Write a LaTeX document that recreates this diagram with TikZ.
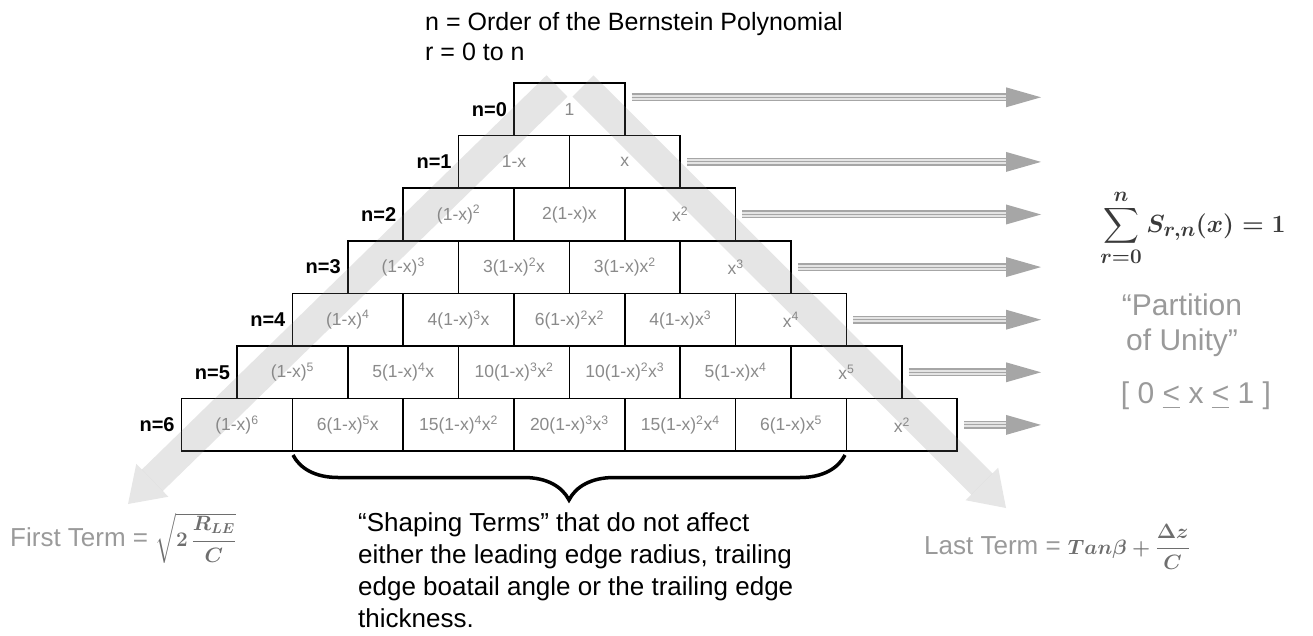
\documentclass[tikz,border=0pt]{standalone}
\usepackage{amsmath}
\usepackage{fontspec}
\setmainfont{Liberation Sans}
\usetikzlibrary{decorations.pathreplacing,arrows.meta}
\definecolor{celltxt}{HTML}{8A8A8A}
\definecolor{arrgray}{HTML}{A6A6A6}
\definecolor{shaftin}{HTML}{E4E4E4}
\definecolor{lbltxt}{HTML}{9A9A9A}
\definecolor{mathgray}{HTML}{6E6E6E}
\definecolor{sumcol}{HTML}{3A3A3A}
\newcommand\sps[1]{\textsuperscript{#1}}
\newcommand\bcell[4]{\node[cellbox] (#1) at ({569.4-55.4*#2+110.8*#3},{109.3+52.6*#2}) {#4};}
\newcommand\rowarrow[3]{%
  \coordinate (#2s) at ([xshift=6pt,yshift=#3]#1.east);
  \coordinate (#2e) at (#2s -| hx);
  \draw[shaft] (#2s) -- (#2e);
  \fill[arrgray] (#2e) -- ++(0,-10) -- ++(35,10) -- ++(-35,10) -- cycle;}
\newcommand\sumformula{{\fontsize{32}{35}\selectfont\boldmath$\displaystyle\sum_{r=0}^{n}S_{r,n}(x)=1$}}
\newcommand\firstformula{{\fontsize{22}{24}\selectfont\boldmath$\sqrt{2\,\dfrac{R_{LE}}{C}}$}}
\newcommand\lastformula{{\fontsize{22}{24}\selectfont\boldmath$Tan\beta+\dfrac{\Delta z}{C}$}}
\begin{document}
\begin{tikzpicture}[x=1pt,y=-1pt,
  cellbox/.style={draw=black, line width=1.7pt, minimum width=110.8pt, minimum height=52.6pt,
    inner sep=0pt, fill=white, text=celltxt, font=\fontsize{17.5}{19}\selectfont},
  rowlbl/.style={font=\bfseries\fontsize{20}{21}\selectfont, text=black, inner sep=0pt},
  shaft/.style={draw=arrgray, line width=8pt, postaction={draw=shaftin, line width=5pt},
    postaction={draw=arrgray, line width=1pt}},
  band/.style={draw=gray, line width=30pt, opacity=0.2, -{Triangle[width=46pt,length=34pt,line width=0pt]}},
  bigtxt/.style={text=lbltxt, font=\fontsize{30}{34}\selectfont, inner sep=0pt},
  termtxt/.style={anchor=west, inner sep=0pt, text=lbltxt, font=\fontsize{26}{28}\selectfont},
  note/.style={font=\fontsize{25}{30}\selectfont, inner sep=0pt}]
\useasboundingbox (0,0) rectangle (1313,636);

% header
\node[note, anchor=base west] (h1) at (425,31) {n = Order of the Bernstein Polynomial};
\node[note, anchor=base west] (h2) at (425,61) {r = 0 to n};

% pyramid
\bcell{c00}{0}{0}{1}
\bcell{c10}{1}{0}{1-x}
\bcell{c11}{1}{1}{x}
\bcell{c20}{2}{0}{(1-x)\sps{2}}
\bcell{c21}{2}{1}{2(1-x)x}
\bcell{c22}{2}{2}{x\sps{2}}
\bcell{c30}{3}{0}{(1-x)\sps{3}}
\bcell{c31}{3}{1}{3(1-x)\sps{2}x}
\bcell{c32}{3}{2}{3(1-x)x\sps{2}}
\bcell{c33}{3}{3}{x\sps{3}}
\bcell{c40}{4}{0}{(1-x)\sps{4}}
\bcell{c41}{4}{1}{4(1-x)\sps{3}x}
\bcell{c42}{4}{2}{6(1-x)\sps{2}x\sps{2}}
\bcell{c43}{4}{3}{4(1-x)x\sps{3}}
\bcell{c44}{4}{4}{x\sps{4}}
\bcell{c50}{5}{0}{(1-x)\sps{5}}
\bcell{c51}{5}{1}{5(1-x)\sps{4}x}
\bcell{c52}{5}{2}{10(1-x)\sps{3}x\sps{2}}
\bcell{c53}{5}{3}{10(1-x)\sps{2}x\sps{3}}
\bcell{c54}{5}{4}{5(1-x)x\sps{4}}
\bcell{c55}{5}{5}{x\sps{5}}
\bcell{c60}{6}{0}{(1-x)\sps{6}}
\bcell{c61}{6}{1}{6(1-x)\sps{5}x}
\bcell{c62}{6}{2}{15(1-x)\sps{4}x\sps{2}}
\bcell{c63}{6}{3}{20(1-x)\sps{3}x\sps{3}}
\bcell{c64}{6}{4}{15(1-x)\sps{2}x\sps{4}}
\bcell{c65}{6}{5}{6(1-x)x\sps{5}}
\bcell{c66}{6}{6}{x\sps{2}}

% row labels
\node[rowlbl, left=6pt] (l0) at (c00.west) {n=0};
\node[rowlbl, left=6pt] (l1) at (c10.west) {n=1};
\node[rowlbl, left=6pt] (l2) at (c20.west) {n=2};
\node[rowlbl, left=6pt] (l3) at (c30.west) {n=3};
\node[rowlbl, left=6pt] (l4) at (c40.west) {n=4};
\node[rowlbl, left=6pt] (l5) at (c50.west) {n=5};
\node[rowlbl, left=6pt] (l6) at (c60.west) {n=6};

% row arrows
\coordinate (hx) at (1006,0);
\rowarrow{c00}{a0}{12pt}
\rowarrow{c11}{a1}{0pt}
\rowarrow{c22}{a2}{0pt}
\rowarrow{c33}{a3}{0pt}
\rowarrow{c44}{a4}{0pt}
\rowarrow{c55}{a5}{0pt}
\rowarrow{c66}{a6}{0pt}

% faded diagonal arrows
\coordinate (lb0) at (557,86);
\coordinate (lbt) at (128,504);
\coordinate (rb0) at (583,86);
\coordinate (rbt) at (1006,508);
\draw[band] (lb0) -- (lbt);
\draw[band] (rb0) -- (rbt);

% brace
\coordinate (br0) at (293,455);
\coordinate (br1) at (845,455);
\draw[line width=3.5pt, decorate, decoration={brace, mirror, amplitude=45pt, aspect=0.5}] (br0) -- (br1);

% shaping terms note
\node[anchor=base west, align=left, inner sep=0pt, font=\fontsize{26}{31.7}\selectfont] (shp) at (358,627) {“Shaping Terms” that do not affect\\either the leading edge radius, trailing\\edge boatail angle or the trailing edge\\thickness.};

% partition of unity
\node[text=sumcol, inner sep=0pt] (sumf) at (1193,228) {\sumformula};
\node[bigtxt] (pu1) at (1182,305) {“Partition};
\node[bigtxt] (pu2) at (1182,343) {of Unity”};
\node[bigtxt] (pu3) at (1196,396) {[ 0 \underline{<} x \underline{<} 1 ]};

% first / last term
\node[termtxt] (ft) at (10,538) {First Term = \textcolor{mathgray}{\firstformula}};
\node[termtxt] (lt) at (924,547) {Last Term = \textcolor{mathgray}{\lastformula}};
\end{tikzpicture}
\end{document}
